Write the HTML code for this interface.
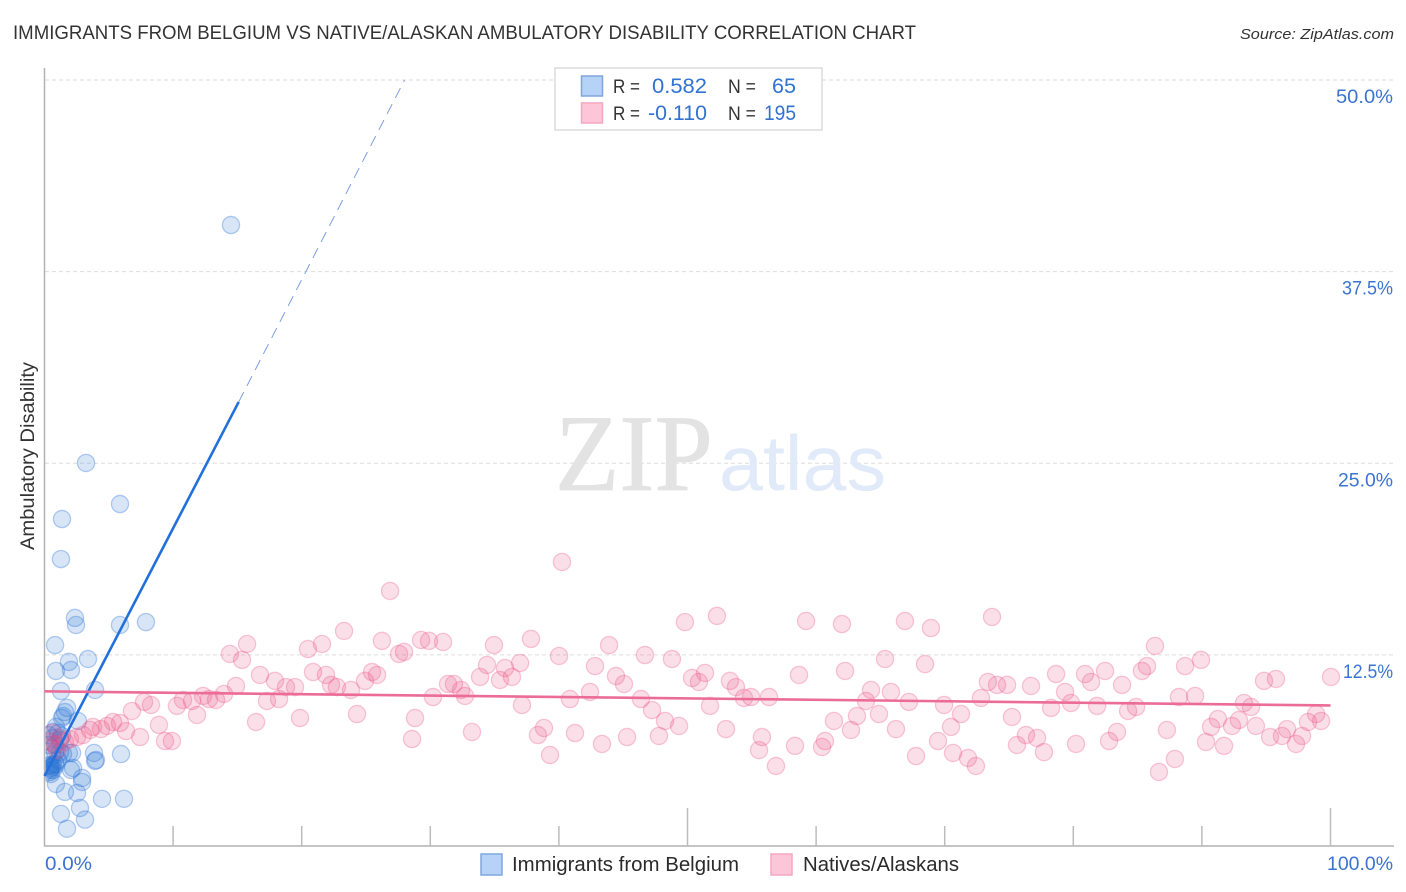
<!DOCTYPE html>
<html lang="en">
<head>
<meta charset="utf-8">
<title>Immigrants from Belgium vs Native/Alaskan Ambulatory Disability Correlation Chart</title>
<style>
html,body{margin:0;padding:0;background:#fff;}
svg{display:block;font-family:"Liberation Sans",sans-serif;}
</style>
</head>
<body>
<svg id="chart" width="1406" height="892" viewBox="0 0 1406 892" xmlns="http://www.w3.org/2000/svg">
  <defs>
    <clipPath id="plot-clip"><rect x="45.5" y="60" width="1350" height="786"/></clipPath>
  </defs>
  <text x="13" y="39" font-size="19.5" fill="#333" textLength="903" lengthAdjust="spacingAndGlyphs">IMMIGRANTS FROM BELGIUM VS NATIVE/ALASKAN AMBULATORY DISABILITY CORRELATION CHART</text>
  <text x="1394" y="39" font-size="15" font-style="italic" fill="#333" text-anchor="end" textLength="154" lengthAdjust="spacingAndGlyphs">Source: ZipAtlas.com</text>

  <g id="grid"></g>

  <g>
    <text x="555" y="490" font-family="'Liberation Serif',serif" font-size="109" fill="#e3e3e3" stroke="#e3e3e3" stroke-width="0.8" textLength="158" lengthAdjust="spacingAndGlyphs">ZIP</text>
    <text x="719" y="490" font-size="78" fill="#e0eaf9" textLength="167" lengthAdjust="spacingAndGlyphs">atlas</text>
  </g>

  <g id="axes"></g>
  <g id="points-blue" clip-path="url(#plot-clip)"></g>
  <g id="points-pink" clip-path="url(#plot-clip)"></g>
  <g id="trends"></g>
  <g id="labels"></g>

  <text transform="translate(34,456) rotate(-90)" font-size="19" fill="#333" text-anchor="middle" textLength="188" lengthAdjust="spacingAndGlyphs">Ambulatory Disability</text>

  <g>
    <rect x="555" y="68" width="267" height="62" fill="#fff" stroke="#dcdcdc" stroke-width="1.5"/>
    <rect x="581.5" y="76" width="21" height="20" fill="#b6d2f6" stroke="#7ea6dc" stroke-width="1.5"/>
    <rect x="581.5" y="103" width="21" height="20" fill="#fcc6d8" stroke="#f5a8c0" stroke-width="1.5"/>
    <text x="613" y="93" font-size="19" fill="#333" textLength="27" lengthAdjust="spacingAndGlyphs">R =</text>
    <text x="652" y="93" font-size="21" fill="#3272d2" textLength="55" lengthAdjust="spacingAndGlyphs">0.582</text>
    <text x="728" y="93" font-size="19" fill="#333" textLength="28" lengthAdjust="spacingAndGlyphs">N =</text>
    <text x="772" y="93" font-size="21" fill="#3272d2" textLength="24" lengthAdjust="spacingAndGlyphs">65</text>
    <text x="613" y="120" font-size="19" fill="#333" textLength="27" lengthAdjust="spacingAndGlyphs">R =</text>
    <text x="648" y="120" font-size="21" fill="#3272d2" textLength="59" lengthAdjust="spacingAndGlyphs">-0.110</text>
    <text x="728" y="120" font-size="19" fill="#333" textLength="28" lengthAdjust="spacingAndGlyphs">N =</text>
    <text x="764" y="120" font-size="21" fill="#3272d2" textLength="32" lengthAdjust="spacingAndGlyphs">195</text>
  </g>

  <g>
    <rect x="481" y="854" width="21" height="21" fill="#b6d2f6" stroke="#7ea6dc" stroke-width="1.5"/>
    <text x="512" y="871" font-size="20" fill="#2b2b2b" textLength="227" lengthAdjust="spacingAndGlyphs">Immigrants from Belgium</text>
    <rect x="771" y="854" width="21" height="21" fill="#fcc6d8" stroke="#f5a8c0" stroke-width="1.5"/>
    <text x="803" y="871" font-size="20" fill="#2b2b2b" textLength="156" lengthAdjust="spacingAndGlyphs">Natives/Alaskans</text>
  </g>
</svg>

<script>
var yTickValues = [12.5, 25, 37.5, 50];
var yTickLabels = ["12.5%", "25.0%", "37.5%", "50.0%"];
var xTickValues = [10, 20, 30, 40, 50, 60, 70, 80, 90, 100];
var xEndLabels = ["0.0%", "100.0%"];

var blueX = [14.5,3.23,5.87,1.36,1.28,2.37,2.45,5.87,7.89,0.82,3.38,1.9,2.06,0.89,1.28,3.93,2.6,1.75,1.59,1.44,1.36,0.89,0.66,3.85,4.0,3.93,5.95,2.14,2.22,2.06,2.92,2.92,0.89,1.59,2.53,4.47,6.18,2.76,1.28,3.15,1.75,0.43,0.5,0.43,0.58,0.66,0.35,0.82,1.05,1.21,1.44,1.9,0.58,0.82,0.35,1.21,0.66,1.05,1.36,0.35,0.82,0.43,0.5,0.89,0.66];
var blueY = [40.54,25.02,22.34,21.36,18.75,14.91,14.45,14.45,14.64,13.14,12.23,12.04,11.51,11.45,10.14,10.21,8.19,9.04,8.77,8.51,8.38,7.8,7.47,6.1,5.64,5.58,6.03,6.1,5.12,4.99,4.47,4.21,4.08,3.56,3.49,3.11,3.11,2.51,2.12,1.75,1.16,4.99,5.12,5.32,5.2,5.3,5.25,5.4,5.64,6.16,6.03,6.1,5.9,6.62,6.62,6.95,7.08,7.4,7.21,7.27,6.16,4.86,4.73,5.32,4.99];

var pinkX = [0.43,0.58,0.82,0.97,1.21,1.59,1.98,2.53,2.99,3.54,3.77,4.39,4.86,5.33,5.87,6.34,6.8,7.43,7.74,8.28,8.9,9.37,9.91,10.3,10.77,11.47,11.86,12.33,12.79,13.34,13.96,14.42,14.89,15.36,15.75,16.45,16.76,17.3,17.92,18.24,18.78,19.48,19.87,20.49,20.88,21.58,21.89,22.28,22.74,23.29,23.83,24.3,24.92,25.47,25.86,26.24,26.87,27.57,27.96,28.58,28.81,29.28,29.9,30.21,30.99,31.38,31.84,32.39,32.7,33.24,33.87,34.41,34.95,35.42,35.81,36.35,36.98,37.13,37.83,38.37,38.84,39.31,40.01,40.24,40.86,41.25,42.42,42.81,43.35,43.9,44.44,45.06,45.3,46.38,46.69,47.24,47.78,48.25,48.79,49.34,49.8,50.35,50.89,51.36,51.75,52.29,52.99,53.3,53.77,54.39,54.94,55.56,55.79,56.34,56.88,58.36,58.67,59.22,60.46,60.69,61.39,62.01,62.25,62.71,63.18,63.88,64.27,64.89,65.36,65.82,66.21,66.91,67.22,67.77,68.47,68.93,69.48,69.95,70.49,70.65,71.27,71.81,72.43,72.82,73.36,73.68,74.07,74.85,75.23,75.62,76.32,76.71,77.18,77.72,78.27,78.66,79.36,79.82,80.21,80.91,81.38,81.85,82.47,82.78,83.4,83.79,84.26,84.88,85.34,85.73,86.35,86.66,87.28,87.9,88.22,88.69,89.47,89.93,90.32,90.71,91.25,91.72,92.34,92.88,93.27,93.82,94.2,94.83,95.3,95.76,96.23,96.62,97.32,97.79,98.25,98.88,99.27,100.04];
var pinkY = [6.82,7.4,6.62,6.29,7.08,6.82,7.01,7.14,7.27,7.6,7.8,7.66,7.86,8.12,8.06,7.53,8.84,7.14,9.43,9.23,7.93,6.88,6.88,9.17,9.56,9.49,8.58,9.82,9.62,9.56,9.95,12.56,10.47,12.17,13.21,8.12,11.19,9.49,10.8,9.62,10.4,10.4,8.38,12.88,11.38,13.21,11.19,10.54,10.4,14.06,10.21,8.64,10.8,11.38,11.19,13.41,16.67,12.56,12.69,7.01,8.38,13.47,13.41,9.75,13.34,10.6,10.6,10.21,9.82,7.47,11.06,11.84,13.14,10.86,11.64,11.06,11.97,9.23,13.54,7.27,7.73,5.97,12.43,18.56,9.62,7.4,10.08,11.77,6.69,13.14,11.12,10.6,7.14,9.62,12.49,8.9,7.21,8.19,12.23,7.86,14.64,10.99,10.73,11.32,9.17,15.04,7.66,10.8,10.4,9.69,9.75,6.29,7.14,9.75,5.25,6.56,11.19,14.71,6.49,6.88,8.19,14.51,11.45,7.6,8.51,9.49,10.21,8.64,12.23,10.08,7.66,14.71,9.43,5.9,11.9,14.25,6.88,9.23,7.8,6.1,8.64,5.77,5.25,9.69,10.73,14.97,10.54,10.54,8.45,6.62,7.27,10.47,7.08,6.16,9.04,11.25,10.08,9.36,6.69,11.25,10.73,9.17,11.45,6.88,7.47,10.54,8.84,9.1,11.45,11.77,13.08,4.86,7.6,5.71,9.75,11.77,9.82,12.17,6.82,7.8,8.32,6.56,7.86,8.25,9.36,9.1,7.86,10.8,7.14,10.93,7.21,7.66,6.69,7.21,8.12,8.64,8.19,11.06];

var blueTrendSolidX = [0, 15.1];
var blueTrendSolidY = [4.6, 29.0];
var blueTrendDashX = [15.1, 28];
var blueTrendDashY = [29.0, 50];
var pinkTrendX = [0, 100];
var pinkTrendY = [10.12, 9.2];

function sx(v) { return 44.5 + v * 12.86; }
function sy(v) { return 846.5 - v * 15.33; }

var NS = 'http://www.w3.org/2000/svg';
function make(tag, parent, attrs) {
  var el = document.createElementNS(NS, tag);
  for (var k in attrs) el.setAttribute(k, attrs[k]);
  parent.appendChild(el);
  return el;
}

var grid = document.getElementById('grid');
yTickValues.forEach(function (v) {
  var line = make('line', grid, {x1: 45, x2: 1394, y1: sy(v), y2: sy(v), stroke: '#dddddd', 'stroke-width': 1, 'stroke-dasharray': '4 3'});
  
  
});

var axes = document.getElementById('axes');
var yAxis = make('line', axes, {x1: 44.5, x2: 44.5, y1: 68, y2: 846.5, stroke: '#b2b2b2', 'stroke-width': 1.5});


var xAxis = make('line', axes, {x1: 44, x2: 1394, y1: 846, y2: 846, stroke: '#b2b2b2', 'stroke-width': 1.5});


xTickValues.forEach(function (v) {
  var tall = (v === 50 || v === 100);
  var tick = make('line', axes, {x1: sx(v), x2: sx(v), y1: tall ? 808 : 826, y2: 846, stroke: '#bcbcbc', 'stroke-width': 1.5});
  
  
});

function drawPoints(groupId, xs, ys, fill, stroke, name) {
  var g = document.getElementById(groupId);
  xs.forEach(function (x, i) {
    var c = make('circle', g, {cx: sx(x), cy: sy(ys[i]), r: 8.6, fill: fill, stroke: stroke, 'stroke-width': 1.3});
    
    
  });
}
drawPoints('points-blue', blueX, blueY, 'rgba(45,115,215,0.19)', 'rgba(45,115,215,0.34)', 'immigrants-point');
drawPoints('points-pink', pinkX, pinkY, 'rgba(235,80,130,0.18)', 'rgba(235,80,130,0.3)', 'natives-point');

var trends = document.getElementById('trends');
var blueDash = make('line', trends, {x1: sx(blueTrendDashX[0]), y1: sy(blueTrendDashY[0]), x2: sx(blueTrendDashX[1]), y2: sy(blueTrendDashY[1]), stroke: '#7d9ddc', 'stroke-width': 1, 'stroke-dasharray': '11 7'});


var blueSolid = make('line', trends, {x1: sx(blueTrendSolidX[0]), y1: sy(blueTrendSolidY[0]), x2: sx(blueTrendSolidX[1]), y2: sy(blueTrendSolidY[1]), stroke: '#2270dc', 'stroke-width': 2.6});


var pinkLine = make('line', trends, {x1: sx(pinkTrendX[0]), y1: sy(pinkTrendY[0]), x2: sx(pinkTrendX[1]), y2: sy(pinkTrendY[1]), stroke: '#ec6c98', 'stroke-width': 2.6});



var labels = document.getElementById('labels');
function addLabel(str, x, y, anchor, width, name) {
  var t = make('text', labels, {x: x, y: y, 'font-size': 19, fill: '#3b74d0', 'text-anchor': anchor, textLength: width, lengthAdjust: 'spacingAndGlyphs'});
  t.textContent = str;
  
  
}
var yLabelWidths = [50, 55, 51, 57];
yTickValues.forEach(function (v, i) {
  addLabel(yTickLabels[i], 1393, sy(v) + 23, 'end', yLabelWidths[i], 'y-tick-label');
});
addLabel(xEndLabels[0], 45, 870, 'start', 47, 'x-tick-label-start');
addLabel(xEndLabels[1], 1393, 870, 'end', 66, 'x-tick-label-end');
</script>
</body>
</html>
